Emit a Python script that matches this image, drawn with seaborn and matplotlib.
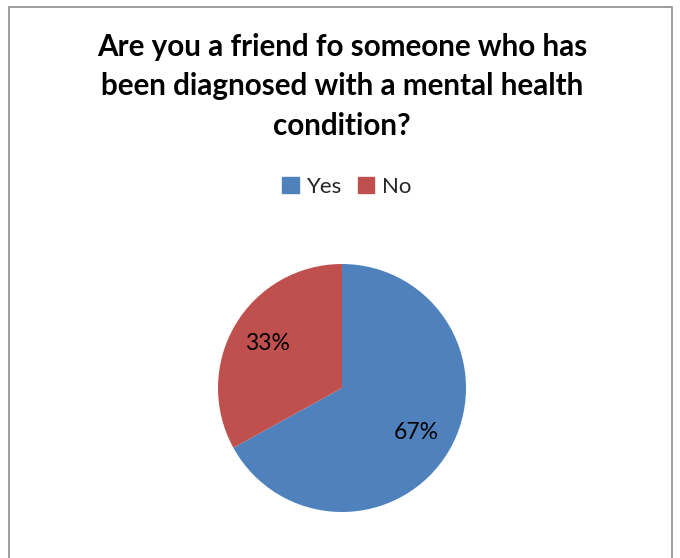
import matplotlib
matplotlib.use("Agg")
import matplotlib.pyplot as plt
import matplotlib.patches as mpatches
import seaborn as sns

# data
labels = ["Yes", "No"]
shares = [67, 33]
colors = ["#4F81BD", "#C0504D"]
title = "Are you a friend fo someone who has\nbeen diagnosed with a mental health\ncondition?"

sns.set_theme(style="white")
plt.rcParams['font.family'] = ['Lato', 'DejaVu Sans']

W, H = 680, 558
fig = plt.figure(figsize=(W / 100, H / 100), dpi=100)
fig.patch.set_facecolor("white")

# chart border (bottom runs off the image)
border = mpatches.Rectangle((9 / W, -0.05), (672 - 9) / W, 1 - 7 / H + 0.05,
                            transform=fig.transFigure, fill=False,
                            edgecolor="#8c8c8c", linewidth=1.2)
fig.add_artist(border)

# pie axes: centre (342, 388) px, radius 124 px
cx, cy, r = 342, 388, 124
ax = fig.add_axes([(cx - r) / W, 1 - (cy + r) / H, 2 * r / W, 2 * r / H])
wedges, texts, autotexts = ax.pie(shares, colors=colors, startangle=90, counterclock=False,
                                  autopct=lambda p: f"{p:.0f}%", pctdistance=0.70,
                                  radius=1.0, wedgeprops={"linewidth": 0},
                                  textprops={"fontsize": 16.5, "color": "black"})
ax.set_xlim(-1, 1)
ax.set_ylim(-1, 1)
ax.set_aspect("equal")
ax.axis("off")

fig.text(cx / W, 1 - 33 / H, title, ha="center", va="top", fontsize=21.3,
         fontweight="bold", linespacing=1.5, color="black")

handles = [mpatches.Patch(color=c, label=l) for c, l in zip(colors, labels)]
fig.legend(handles=handles, loc="center", bbox_to_anchor=(347 / W, 1 - 187 / H), ncol=2,
           frameon=False, fontsize=16, handlelength=0.75, handleheight=0.75,
           handletextpad=0.35, columnspacing=0.7)

fig.savefig("out.png", dpi=100)
